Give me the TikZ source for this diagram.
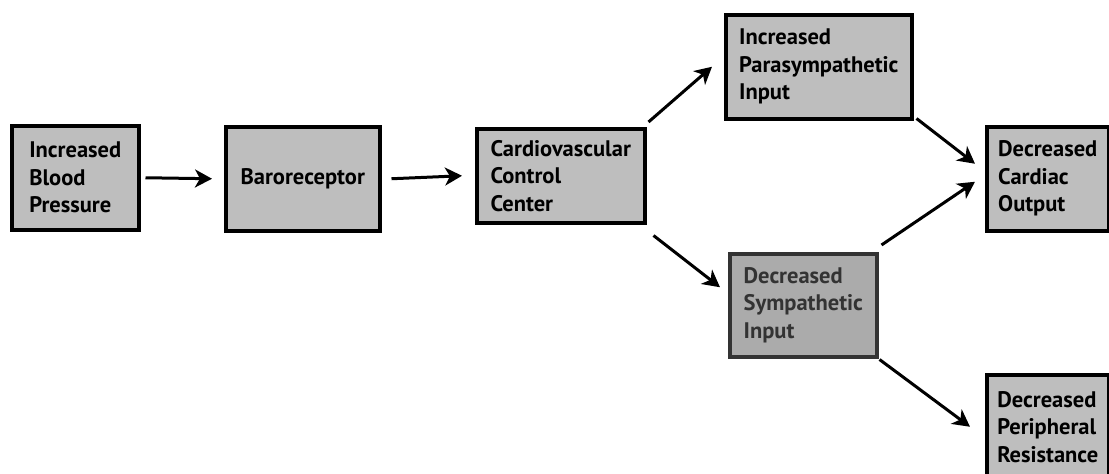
\documentclass[tikz,border=0pt]{standalone}
\usepackage{fontspec}
\setmainfont{PT Sans}
\usetikzlibrary{arrows.meta}
\definecolor{boxgray}{HTML}{BEBEBE}
\definecolor{boxgraydark}{HTML}{ABABAB}
\definecolor{textdark}{HTML}{333333}
\begin{document}
\begin{tikzpicture}[x=1pt,y=-1pt,
  box/.style={draw=black, line width=3.5pt, fill=boxgray, anchor=north west,
    align=left, font=\fontsize{22.5}{27.5}\selectfont\bfseries,
    inner xsep=6pt, inner ysep=0pt},
  dimbox/.style={box, fill=boxgraydark, draw=textdark, text=textdark},
  arr/.style={line width=3pt, draw=black,
    -{Stealth[length=17pt,width=18pt,inset=5pt]}}]
\useasboundingbox (0,0) rectangle (1109,474);
\clip (0,0) rectangle (1109,474);

\node[box, minimum width=127pt, minimum height=104pt] (b1) at (10,124)
  {Increased\\Blood\\Pressure};
\node[box, minimum width=154pt, minimum height=104pt] (b2) at (224,125)
  {Baroreceptor};
\node[box, minimum width=168pt, minimum height=94pt] (b3) at (475,127)
  {Cardiovascular\\Control\\Center};
\node[box, minimum width=186pt, minimum height=104pt] (b4) at (724,13)
  {Increased\\Parasympathetic\\Input};
\node[box, minimum width=122pt, minimum height=104pt] (b5) at (985,125)
  {Decreased\\Cardiac\\Output};
\node[dimbox, minimum width=147pt, minimum height=103pt] (b6) at (728,252)
  {Decreased\\Sympathetic\\Input};
\node[box, minimum width=122pt, minimum height=104pt] (b7) at (985,373)
  {Decreased\\Peripheral\\Resistance};

\draw[arr] ([shift={(5,0)}]b1.east) -- ([shift={(-12,0)}]b2.west);
\draw[arr] ([shift={(10,0)}]b2.east) -- ([shift={(-13,0)}]b3.west);
\draw[arr] ([shift={(2,-5)}]b3.north east) -- ([shift={(-12,0)}]b4.west);
\draw[arr] ([shift={(3,-2)}]b4.south east) -- ([shift={(-10,-15)}]b5.west);
\draw[arr] ([shift={(7,11)}]b3.south east) -- ([shift={(-8,-18)}]b6.west);
\draw[arr] ([shift={(3,-7)}]b6.north east) -- ([shift={(-10,3)}]b5.west);
\draw[arr] ([shift={(1,1)}]b6.south east) -- ([shift={(-15,0)}]b7.west);
\end{tikzpicture}
\end{document}
